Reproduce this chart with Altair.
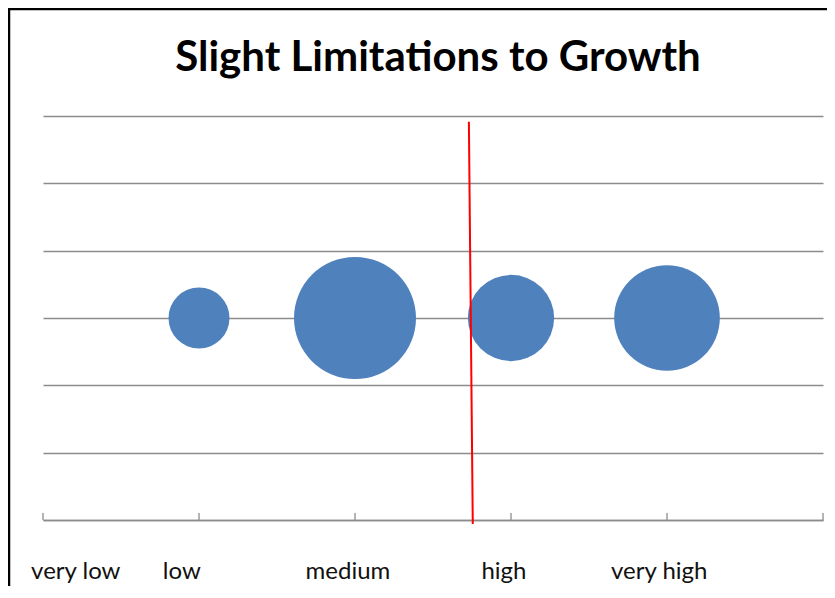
import altair as alt
import pandas as pd

# Bubble data (x position on the 0..5 axis, y level, bubble size value)
bubble_levels = ["low", "medium", "high", "very high"]
bubble_x = [1, 2, 3, 4]
bubble_y = [3, 3, 3, 3]
bubble_size = [1, 4, 2, 3]

# Category text labels under the axis (x position in axis units)
label_text = ["very low", "low", "medium", "high", "very high"]
label_x = [0.21, 0.89, 1.955, 2.955, 3.95]
label_y = [-0.77, -0.77, -0.77, -0.77, -0.77]

# Axis tick positions (ticks point upward from the axis)
tick_x = [0, 1, 2, 3, 4, 5]

# Red reference line endpoints (axis units)
red_x = [2.73]
red_x2 = [2.755]
red_y = [5.915]
red_y2 = [-0.06]

title_text = ["Slight Limitations to Growth"]

bubbles = pd.DataFrame({"level": bubble_levels, "x": bubble_x, "y": bubble_y, "size": bubble_size})
labels = pd.DataFrame({"text": label_text, "x": label_x, "y": label_y})
ticks = pd.DataFrame({"x": tick_x, "y": [0] * len(tick_x), "y2": [0.105] * len(tick_x)})
red = pd.DataFrame({"x": red_x, "x2": red_x2, "y": red_y, "y2": red_y2})
title_df = pd.DataFrame({"t": title_text})

xscale = alt.Scale(domain=[0, 5], nice=False, zero=False)
yscale = alt.Scale(domain=[0, 6], nice=False, zero=False)

base_x = alt.X("x:Q", scale=xscale,
               axis=alt.Axis(labels=False, ticks=False, grid=False, title=None,
                             domainColor="#8c8c8c", domainWidth=1.3))
base_y = alt.Y("y:Q", scale=yscale,
               axis=alt.Axis(labels=False, ticks=False, domain=False, title=None,
                             grid=True, gridColor="#8c8c8c", gridWidth=1.3,
                             values=[0, 1, 2, 3, 4, 5, 6]))

points = alt.Chart(bubbles).mark_circle(color="#4F81BD", opacity=1).encode(
    x=base_x,
    y=base_y,
    size=alt.Size("size:Q", scale=alt.Scale(domain=[0, 4], range=[0, 14884]), legend=None),
)

tick_rules = alt.Chart(ticks).mark_rule(color="#8c8c8c", strokeWidth=1.3).encode(
    x="x:Q", y="y:Q", y2="y2:Q"
)

red_line = alt.Chart(red).mark_rule(color="#FF0000", strokeWidth=2).encode(
    x="x:Q", x2="x2:Q", y="y:Q", y2="y2:Q"
)

text = alt.Chart(labels).mark_text(font="Lato", fontSize=24, color="#111111",
                                   baseline="middle", align="center").encode(
    x="x:Q", y="y:Q", text="text:N"
)

title = alt.Chart(title_df).mark_text(font="Lato", fontSize=42, fontWeight="bold", color="black",
                                      baseline="alphabetic", align="center").encode(
    x=alt.value(395), y=alt.value(-45), text="t:N"
)

frame_v = alt.Chart(title_df).mark_rule(color="black", strokeWidth=2.5).encode(
    x=alt.value(-34), y=alt.value(-107), y2=alt.value(480)
)
frame_h = alt.Chart(title_df).mark_rule(color="black", strokeWidth=2.5).encode(
    x=alt.value(-35), x2=alt.value(800), y=alt.value(-107)
)

chart = alt.layer(tick_rules, points, red_line, text, title, frame_v, frame_h).properties(
    width=780,
    height=404,
    padding={"left": 35, "top": 108, "right": 4, "bottom": 66},
    autosize=alt.AutoSizeParams(type="none"),
).configure(background="white", view=alt.ViewConfig(stroke=None))

chart.save("out.html", embed_options={"renderer": "svg", "actions": False})
